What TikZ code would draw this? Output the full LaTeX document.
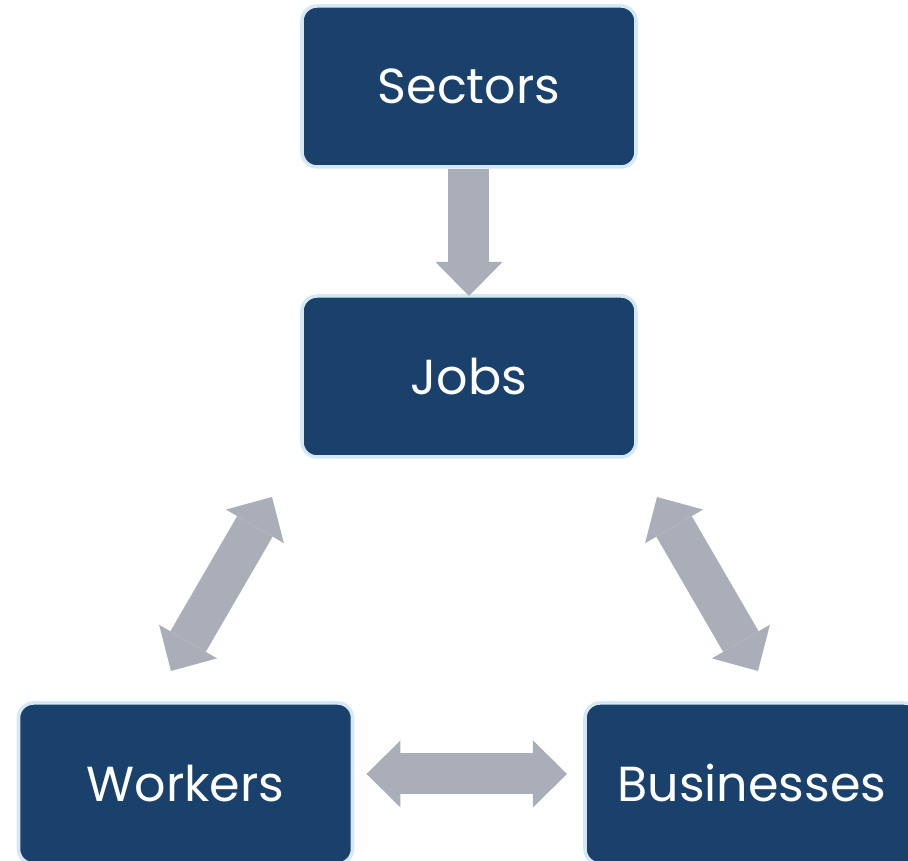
\documentclass[tikz,border=0pt]{standalone}
\usepackage{fontspec}
\setmainfont{Poppins}
\usetikzlibrary{arrows.meta}
\definecolor{boxblue}{HTML}{1A406C}
\definecolor{boxline}{HTML}{D5E8F5}
\definecolor{arrowgray}{HTML}{AAAEB9}
\begin{document}
\begin{tikzpicture}[
    box/.style={draw=boxline, line width=1pt, fill=boxblue, rounded corners=0.15cm,
                minimum width=3.34cm, minimum height=1.61cm, outer sep=0pt,
                text=white, font=\fontsize{14}{17}\selectfont},
    onearrow/.style={draw=arrowgray, line width=0.41cm, -{Triangle[width=0.67cm, length=0.34cm, line width=0pt]}},
    twoarrow/.style={draw=arrowgray, line width=0.41cm, {Triangle[width=0.67cm, length=0.34cm, line width=0pt]}-{Triangle[width=0.67cm, length=0.34cm, line width=0pt]}}
]
    \useasboundingbox (0,0) rectangle (9.08,8.61);

    % Boxes
    \node[box] (sectors)    at (4.69,7.745) {Sectors};
    \node[box] (jobs)       at (4.69,4.845) {Jobs};
    \node[box] (workers)    at (1.855,0.775) {Workers};
    \node[box] (businesses) at (7.52,0.775) {Businesses};

    % Arrow ends
    \coordinate (wjlow)  at ([shift={(-0.145,0.32)}]workers.north);
    \coordinate (wjhigh) at ([shift={(-0.30,-0.40)}]jobs.south west);
    \coordinate (bjlow)  at ([shift={(0.06,0.32)}]businesses.north);
    \coordinate (bjhigh) at ([shift={(0.21,-0.40)}]jobs.south east);

    % Arrows
    \draw[onearrow, shorten <=0.02cm] (sectors) -- (jobs);
    \draw[twoarrow] (wjlow) -- (wjhigh);
    \draw[twoarrow] (bjhigh) -- (bjlow);
    \draw[twoarrow, shorten <=0.14cm, shorten >=0.18cm]
        ([yshift=0.095cm]workers.east) -- ([yshift=0.095cm]businesses.west);
\end{tikzpicture}
\end{document}
